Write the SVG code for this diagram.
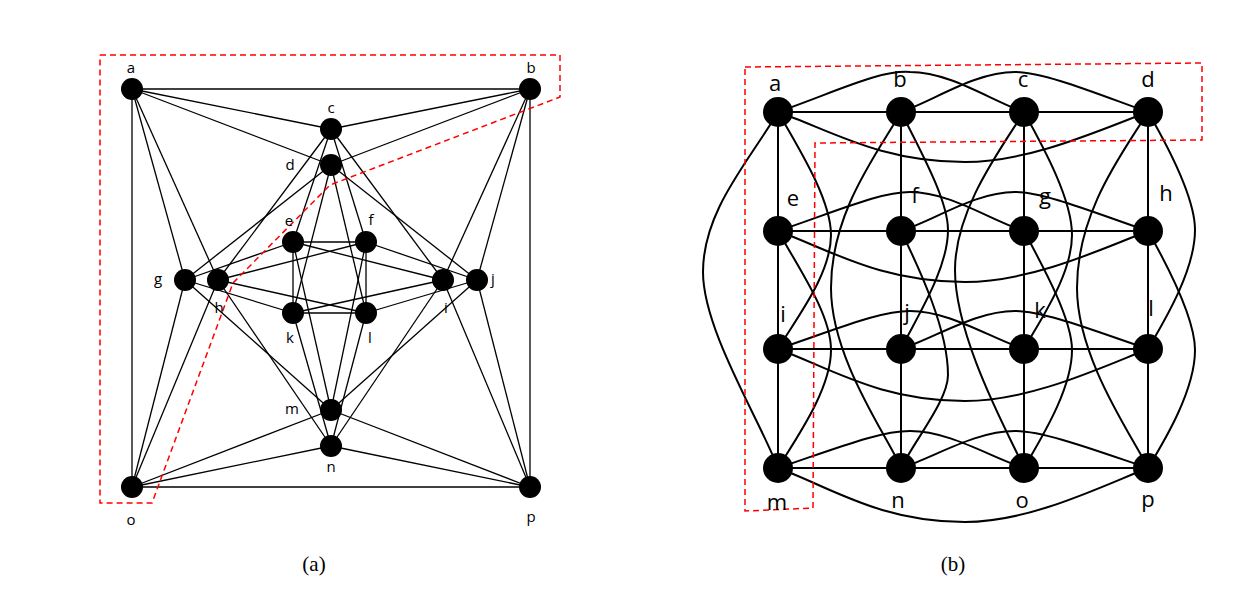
<svg xmlns="http://www.w3.org/2000/svg" width="1247" height="596" viewBox="0 0 1247 596">
<style>
.e{stroke:#000;stroke-width:1.3;fill:none}
.e2{stroke:#000;stroke-width:2;fill:none}
.n{fill:#000}
.t{font-family:"Open Sans","Liberation Sans",sans-serif;font-size:15px;text-anchor:middle}
.t2{font-family:"Open Sans","Liberation Sans",sans-serif;font-size:22px;text-anchor:middle}
.cap{font-family:"Liberation Serif",serif;font-size:21px;text-anchor:middle}
.r{stroke:#f00;stroke-width:1.5;stroke-dasharray:6,4;fill:none}
</style>
<rect width="1247" height="596" fill="#fff"/>
<g id="connectors-a" class="e">
<line x1="132" y1="89" x2="530" y2="89"/><line x1="132" y1="89" x2="331" y2="129"/><line x1="132" y1="89" x2="331" y2="165"/>
<line x1="132" y1="89" x2="132" y2="487"/><line x1="132" y1="89" x2="185" y2="280"/><line x1="132" y1="89" x2="218" y2="280"/>
<line x1="530" y1="89" x2="331" y2="129"/><line x1="530" y1="89" x2="331" y2="165"/><line x1="530" y1="89" x2="530" y2="487"/>
<line x1="530" y1="89" x2="443" y2="280"/><line x1="530" y1="89" x2="477" y2="280"/>
<line x1="331" y1="129" x2="293" y2="242"/><line x1="331" y1="129" x2="366" y2="242"/><line x1="331" y1="129" x2="218" y2="280"/><line x1="331" y1="129" x2="443" y2="280"/>
<line x1="331" y1="165" x2="185" y2="280"/><line x1="331" y1="165" x2="477" y2="280"/><line x1="331" y1="165" x2="293" y2="313"/><line x1="331" y1="165" x2="366" y2="313"/>
<line x1="132" y1="487" x2="530" y2="487"/><line x1="132" y1="487" x2="331" y2="410"/><line x1="132" y1="487" x2="331" y2="446"/><line x1="132" y1="487" x2="185" y2="280"/><line x1="132" y1="487" x2="218" y2="280"/>
<line x1="530" y1="487" x2="331" y2="410"/><line x1="530" y1="487" x2="331" y2="446"/><line x1="530" y1="487" x2="443" y2="280"/><line x1="530" y1="487" x2="477" y2="280"/>
<line x1="331" y1="410" x2="185" y2="280"/><line x1="331" y1="410" x2="477" y2="280"/><line x1="331" y1="410" x2="293" y2="242"/><line x1="331" y1="410" x2="366" y2="242"/>
<line x1="331" y1="446" x2="218" y2="280"/><line x1="331" y1="446" x2="443" y2="280"/><line x1="331" y1="446" x2="293" y2="313"/><line x1="331" y1="446" x2="366" y2="313"/>
<line x1="293" y1="242" x2="366" y2="242"/><line x1="293" y1="242" x2="293" y2="313"/><line x1="293" y1="242" x2="185" y2="280"/><line x1="293" y1="242" x2="443" y2="280"/>
<line x1="366" y1="242" x2="366" y2="313"/><line x1="366" y1="242" x2="218" y2="280"/><line x1="366" y1="242" x2="477" y2="280"/>
<line x1="293" y1="313" x2="366" y2="313"/><line x1="293" y1="313" x2="185" y2="280"/><line x1="293" y1="313" x2="443" y2="280"/>
<line x1="366" y1="313" x2="218" y2="280"/><line x1="366" y1="313" x2="477" y2="280"/>
</g>
<g id="region-a"><polyline class="r" points="100,55 560,55 560,97 330,185 233,283 152,503 100,503 100,55"/></g>
<g class="n">
<g id="a1"><circle cx="132" cy="89" r="11"/><text class="t" x="131" y="73">a</text></g>
<g id="b1"><circle cx="530" cy="89" r="11"/><text class="t" x="531" y="73">b</text></g>
<g id="c1"><circle cx="331" cy="129" r="11"/><text class="t" x="331" y="113">c</text></g>
<g id="d1"><circle cx="331" cy="165" r="11"/><text class="t" x="290" y="170">d</text></g>
<g id="e1"><circle cx="293" cy="242" r="11"/><text class="t" x="289" y="226">e</text></g>
<g id="f1"><circle cx="366" cy="242" r="11"/><text class="t" x="371" y="225">f</text></g>
<g id="g1"><circle cx="185" cy="280" r="11"/><text class="t" x="158" y="284">g</text></g>
<g id="h1"><circle cx="218" cy="280" r="11"/><text class="t" x="219" y="313">h</text></g>
<g id="i1"><circle cx="443" cy="280" r="11"/><text class="t" x="446" y="313">i</text></g>
<g id="j1"><circle cx="477" cy="280" r="11"/><text class="t" x="493" y="284">j</text></g>
<g id="k1"><circle cx="293" cy="313" r="11"/><text class="t" x="290" y="343">k</text></g>
<g id="l1"><circle cx="366" cy="313" r="11"/><text class="t" x="370" y="343">l</text></g>
<g id="m1"><circle cx="331" cy="410" r="11"/><text class="t" x="292" y="414">m</text></g>
<g id="n1"><circle cx="331" cy="446" r="11"/><text class="t" x="331" y="472">n</text></g>
<g id="o1"><circle cx="132" cy="487" r="11"/><text class="t" x="131" y="525">o</text></g>
<g id="p1"><circle cx="530" cy="487" r="11"/><text class="t" x="531" y="522">p</text></g>
</g>
<g id="connectors-b" class="e2">
<path d="M778,112H1148M778,231H1148M778,349H1148M778,468H1148M778,112V468M901,112V468M1024,112V468M1148,112V468"/>
<path d="M778,112C840,90 880,70 910,72C950,72 990,100 1024,112"/>
<path d="M901,112C935,100 975,72 1015,72C1045,72 1100,95 1148,112"/>
<path d="M778,112C830,130 880,162 965,162C1030,162 1100,130 1148,112"/>
<path d="M778,231C840,210 880,192 910,192C950,192 990,220 1024,231"/>
<path d="M901,231C935,220 975,192 1015,192C1045,192 1100,215 1148,231"/>
<path d="M778,231C830,250 880,282 965,282C1030,282 1100,250 1148,231"/>
<path d="M778,349C840,328 880,311 910,311C950,311 990,338 1024,349"/>
<path d="M901,349C935,338 975,311 1015,311C1045,311 1100,333 1148,349"/>
<path d="M778,349C830,368 880,401 965,401C1030,401 1100,368 1148,349"/>
<path d="M778,468C840,447 880,431 910,431C950,431 990,457 1024,468"/>
<path d="M901,468C935,457 975,431 1015,431C1045,431 1100,452 1148,468"/>
<path d="M778,468C830,487 880,522 965,522C1030,522 1100,487 1148,468"/>
<path d="M778,112C750,160 703,210 703,272C703,330 760,420 778,468"/>
<path d="M778,112C800,150 831,200 831,235C831,275 795,320 778,349"/>
<path d="M778,231C800,270 831,315 831,350C831,390 795,440 778,468"/>
<path d="M901,112C880,150 831,210 831,288C831,360 890,440 901,468"/>
<path d="M901,112C920,150 948,200 948,230C948,270 915,320 901,349"/>
<path d="M901,231C920,270 948,330 948,375C948,400 915,440 901,468"/>
<path d="M1024,112C1000,150 955,210 955,270C955,340 1012,440 1024,468"/>
<path d="M1024,112C1045,150 1072,200 1072,235C1072,275 1040,320 1024,349"/>
<path d="M1024,231C1045,270 1072,320 1072,350C1072,390 1040,440 1024,468"/>
<path d="M1148,112C1125,150 1077,210 1077,288C1077,360 1135,440 1148,468"/>
<path d="M1148,112C1170,150 1195,200 1195,230C1195,270 1165,320 1148,349"/>
<path d="M1148,231C1170,270 1195,320 1195,350C1195,390 1165,440 1148,468"/>
</g>
<g id="region-b"><polyline class="r" points="745,67 1202,63 1202,140 815,143 813,508 745,511 745,67"/></g>
<g class="n">
<g id="a2"><circle cx="778" cy="112" r="15"/><text class="t2" x="775" y="91">a</text></g>
<g id="b2"><circle cx="901" cy="112" r="15"/><text class="t2" x="900" y="87">b</text></g>
<g id="c2"><circle cx="1024" cy="112" r="15"/><text class="t2" x="1023" y="87">c</text></g>
<g id="d2"><circle cx="1148" cy="112" r="15"/><text class="t2" x="1148" y="87">d</text></g>
<g id="e2"><circle cx="778" cy="231" r="15"/><text class="t2" x="793" y="206">e</text></g>
<g id="f2"><circle cx="901" cy="231" r="15"/><text class="t2" x="915" y="203">f</text></g>
<g id="g2"><circle cx="1024" cy="231" r="15"/><text class="t2" x="1045" y="204">g</text></g>
<g id="h2"><circle cx="1148" cy="231" r="15"/><text class="t2" x="1166" y="201">h</text></g>
<g id="i2"><circle cx="778" cy="349" r="15"/><text class="t2" x="783" y="322">i</text></g>
<g id="j2"><circle cx="901" cy="349" r="15"/><text class="t2" x="907" y="320">j</text></g>
<g id="k2"><circle cx="1024" cy="349" r="15"/><text class="t2" x="1040" y="318">k</text></g>
<g id="l2"><circle cx="1148" cy="349" r="15"/><text class="t2" x="1151" y="316">l</text></g>
<g id="m2"><circle cx="778" cy="468" r="15"/><text class="t2" x="777" y="510">m</text></g>
<g id="n2"><circle cx="901" cy="468" r="15"/><text class="t2" x="898" y="508">n</text></g>
<g id="o2"><circle cx="1024" cy="468" r="15"/><text class="t2" x="1022" y="508">o</text></g>
<g id="p2"><circle cx="1148" cy="468" r="15"/><text class="t2" x="1148" y="507">p</text></g>
</g>
<text class="cap" x="314" y="571">(a)</text>
<text class="cap" x="953" y="571">(b)</text>
</svg>
